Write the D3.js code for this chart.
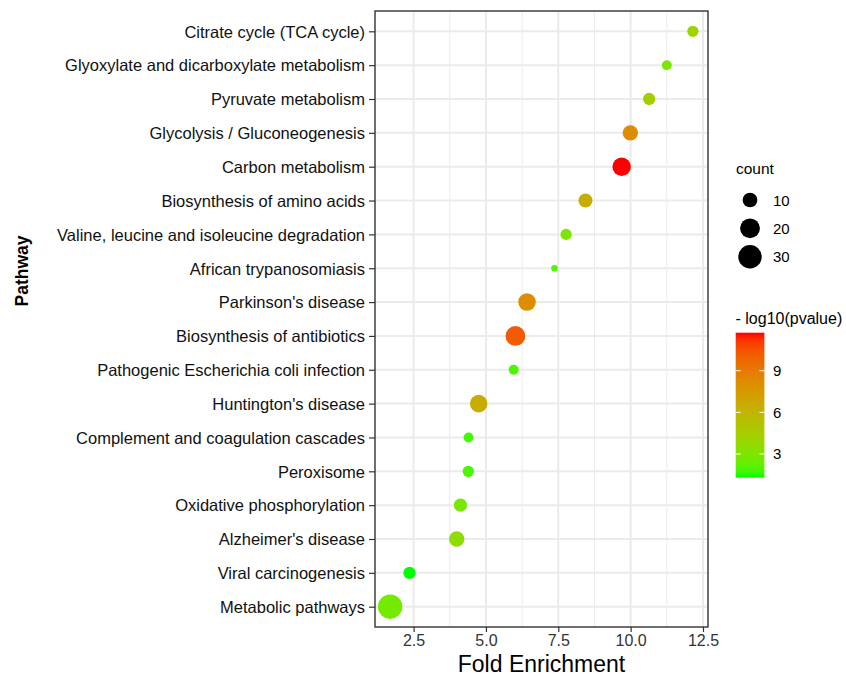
<!DOCTYPE html>
<html lang="en">
<head>
<meta charset="UTF-8">
<script src="https://d3js.org/d3.v7.min.js"></script>
<title>Pathway enrichment</title>
<style>
  body { margin: 0; background: #fff; }
  text { font-family: "Liberation Sans", Arial, sans-serif; }
</style>
</head>
<body>
<script>
// pathways, top to bottom
var pathways = ["Citrate cycle (TCA cycle)", "Glyoxylate and dicarboxylate metabolism", "Pyruvate metabolism",
  "Glycolysis / Gluconeogenesis", "Carbon metabolism", "Biosynthesis of amino acids",
  "Valine, leucine and isoleucine degradation", "African trypanosomiasis", "Parkinson's disease",
  "Biosynthesis of antibiotics", "Pathogenic Escherichia coli infection", "Huntington's disease",
  "Complement and coagulation cascades", "Peroxisome", "Oxidative phosphorylation",
  "Alzheimer's disease", "Viral carcinogenesis", "Metabolic pathways"];
var foldEnrichment = [12.15, 11.25, 10.64, 9.99, 9.69, 8.44, 7.77, 7.37, 6.42, 6.02, 5.96, 4.75, 4.40, 4.39, 4.12, 3.99, 2.36, 1.69];
var counts = [6, 5, 7, 11, 17, 9, 6, 4, 15, 20, 5, 15, 5, 6, 8, 11, 7, 33];
var logP = [4.1, 2.9, 4.4, 8.1, 11.74, 6.5, 2.9, 1.8, 8.1, 10.2, 1.8, 6.5, 1.7, 1.8, 2.8, 3.5, 1.29, 2.7];

var xTicks = [2.5, 5.0, 7.5, 10.0, 12.5];
var xMinor = [3.75, 6.25, 8.75, 11.25];
var sizeBreaks = [10, 20, 30];
var colorBreaks = [3, 6, 9];

var W = 846, H = 676;
var pLeft = 375, pRight = 708, pTop = 11, pBottom = 627;

var svg = d3.select("body").append("svg").attr("width", W).attr("height", H);

// scales
var ext = d3.extent(foldEnrichment);
var pad = (ext[1] - ext[0]) * 0.05;
var x = d3.scaleLinear().domain([ext[0] - pad, ext[1] + pad]).range([pLeft, pRight]);
var y = d3.scalePoint().domain(pathways).range([pTop, pBottom]).padding(0.6);

var cMin = d3.min(counts), cMax = d3.max(counts);
var rScale = d3.scaleSqrt().domain([0, cMax - cMin]).range([0, 8.9]);
function radius(c) { return 3.3 + rScale(c - cMin); }

var pExt = [1.29, 11.74];
var color = d3.scaleLinear().domain(pExt).range(["#00ff00", "#ff0000"]).interpolate(d3.interpolateLab);

// panel grid
var grid = svg.append("g");
grid.selectAll("line.minor").data(xMinor).join("line")
  .attr("x1", d => x(d)).attr("x2", d => x(d)).attr("y1", pTop).attr("y2", pBottom)
  .attr("stroke", "#ebebeb").attr("stroke-width", 1);
grid.selectAll("line.majx").data(xTicks).join("line")
  .attr("x1", d => x(d)).attr("x2", d => x(d)).attr("y1", pTop).attr("y2", pBottom)
  .attr("stroke", "#ebebeb").attr("stroke-width", 2);
grid.selectAll("line.majy").data(pathways).join("line")
  .attr("x1", pLeft).attr("x2", pRight).attr("y1", d => y(d)).attr("y2", d => y(d))
  .attr("stroke", "#ebebeb").attr("stroke-width", 2);

// points
var pts = pathways.map((p, i) => ({ p: p, fe: foldEnrichment[i], n: counts[i], lp: logP[i] }));
svg.append("g").selectAll("circle").data(pts).join("circle")
  .attr("cx", d => x(d.fe)).attr("cy", d => y(d.p))
  .attr("r", d => radius(d.n))
  .attr("fill", d => color(d.lp));

// border
svg.append("rect").attr("x", pLeft).attr("y", pTop).attr("width", pRight - pLeft).attr("height", pBottom - pTop)
  .attr("fill", "none").attr("stroke", "#333").attr("stroke-width", 1.4);

// axes
var xAxis = svg.append("g").attr("transform", "translate(0," + pBottom + ")")
  .call(d3.axisBottom(x).tickValues(xTicks).tickFormat(d3.format(".1f")).tickSize(5).tickPadding(3));
var yAxis = svg.append("g").attr("transform", "translate(" + pLeft + ",0)")
  .call(d3.axisLeft(y).tickSize(6).tickPadding(4));
[xAxis, yAxis].forEach(a => {
  a.select(".domain").remove();
  a.selectAll(".tick line").attr("stroke", "#333").attr("stroke-width", 1.2);
  a.selectAll("text").attr("font-family", "'Liberation Sans', Arial, sans-serif");
});
yAxis.selectAll("text").attr("font-size", 16.5).attr("fill", "#111").attr("dy", "0.35em");
xAxis.selectAll("text").attr("font-size", 16).attr("fill", "#333");

svg.append("text").attr("x", 541.5).attr("y", 672).attr("text-anchor", "middle")
  .attr("font-size", 23).text("Fold Enrichment");
svg.append("text").attr("transform", "translate(28,271) rotate(-90)").attr("text-anchor", "middle")
  .attr("font-size", 17.5).attr("font-weight", "bold").text("Pathway");

// size legend
var lg = svg.append("g");
lg.append("text").attr("x", 736).attr("y", 174).attr("font-size", 15.5).text("count");
var sy = d3.scaleLinear().domain([10, 30]).range([200, 256.7]);
lg.selectAll("circle").data(sizeBreaks).join("circle")
  .attr("cx", 750).attr("cy", d => sy(d)).attr("r", d => radius(d)).attr("fill", "#000");
lg.selectAll("text.lab").data(sizeBreaks).join("text").attr("class", "lab")
  .attr("x", 773).attr("y", d => sy(d) + 5.5).attr("font-size", 15).text(d => d);

// colour bar
var cb = svg.append("g");
cb.append("text").attr("x", 735.5).attr("y", 323.5).attr("font-size", 16).text("- log10(pvalue)");
var barTop = 332.7, barBot = 477.7, barX = 735.7, barW = 28.7;
var cy = d3.scaleLinear().domain(pExt).range([barBot, barTop]);
var grad = svg.append("defs").append("linearGradient").attr("id", "cgrad")
  .attr("x1", 0).attr("y1", 1).attr("x2", 0).attr("y2", 0);
grad.selectAll("stop").data(d3.range(0, 1.0001, 0.05)).join("stop")
  .attr("offset", d => d).attr("stop-color", d => color(pExt[0] + d * (pExt[1] - pExt[0])));
cb.append("rect").attr("x", barX).attr("y", barTop).attr("width", barW).attr("height", barBot - barTop)
  .attr("fill", "url(#cgrad)");
colorBreaks.forEach(v => {
  cb.append("line").attr("x1", barX).attr("x2", barX + 5).attr("y1", cy(v)).attr("y2", cy(v))
    .attr("stroke", "#fff").attr("stroke-width", 1);
  cb.append("line").attr("x1", barX + barW - 5).attr("x2", barX + barW).attr("y1", cy(v)).attr("y2", cy(v))
    .attr("stroke", "#fff").attr("stroke-width", 1);
});
cb.selectAll("text.lab").data(colorBreaks).join("text").attr("class", "lab")
  .attr("x", 773).attr("y", d => cy(d) + 5.5).attr("font-size", 15).text(d => d);
</script>
</body>
</html>
